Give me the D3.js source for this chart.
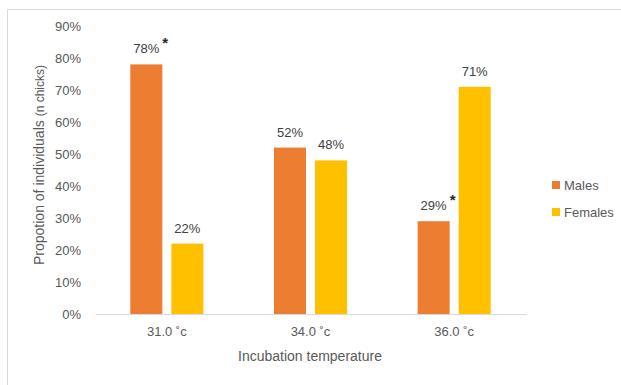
<!DOCTYPE html>
<html>
<head>
<meta charset="utf-8">
<script src="https://cdn.jsdelivr.net/npm/d3@7"></script>
<style>
  body { margin: 0; background: #fff; }
  svg { display: block; font-family: "Liberation Sans", Arial, sans-serif; }
</style>
</head>
<body>
<svg id="chart"></svg>
<script>
const categories = ["31.0 ˚c", "34.0 ˚c", "36.0 ˚c"]
const series = ["Males", "Females"]
const males = [0.78, 0.52, 0.29]
const females = [0.22, 0.48, 0.71]
const yTicks = [0, 0.1, 0.2, 0.3, 0.4, 0.5, 0.6, 0.7, 0.8, 0.9]
// bars marked with an asterisk (significant)
const starred = [{cat: "31.0 ˚c", s: "Males"}, {cat: "36.0 ˚c", s: "Males"}]

const colors = {Males: "#ed7d31", Females: "#ffc000"}
const width = 621, height = 385

const svg = d3.select("#chart").attr("width", width).attr("height", height)

svg.append("rect").attr("width", width).attr("height", height).attr("fill", "#fff")

// frame (only top and left edges are visible)
svg.append("path")
  .attr("d", `M7.5,${height} V9.5 H${width}`)
  .attr("fill", "none").attr("stroke", "#d9d9d9").attr("stroke-width", 1)

const x0 = d3.scaleBand().domain(categories).range([95, 526])
const x1 = d3.scaleBand().domain(series).range([0, x0.bandwidth()])
  .paddingInner(0.22).paddingOuter(0.86)
const y = d3.scaleLinear().domain([0, 0.9]).range([314, 26])

const rows = categories.map((c, i) => ({cat: c, values: [
  {cat: c, s: "Males", v: males[i]},
  {cat: c, s: "Females", v: females[i]}
]}))

// y axis labels
const yAxis = svg.append("g").attr("transform", "translate(81,0)")
  .call(d3.axisLeft(y).tickValues(yTicks).tickFormat(d3.format(".0%")).tickSize(0).tickPadding(0))
yAxis.select(".domain").remove()
yAxis.selectAll("text").attr("fill", "#595959").style("font-size", "13px")
  .style("font-family", "Liberation Sans, Arial, sans-serif")

// x axis
const xAxis = svg.append("g").attr("transform", "translate(0,314)")
  .call(d3.axisBottom(x0).tickSize(0).tickPadding(13))
xAxis.select(".domain").attr("stroke", "#d9d9d9").attr("stroke-width", 1.2)
xAxis.selectAll("text").attr("fill", "#595959").style("font-size", "13px")
  .style("font-family", "Liberation Sans, Arial, sans-serif")

// bars
const groups = svg.selectAll("g.cat").data(rows).join("g")
  .attr("class", "cat")
  .attr("transform", d => `translate(${x0(d.cat)},0)`)

groups.selectAll("rect").data(d => d.values).join("rect")
  .attr("x", d => x1(d.s))
  .attr("width", x1.bandwidth())
  .attr("y", d => y(d.v))
  .attr("height", d => y(0) - y(d.v))
  .attr("fill", d => colors[d.s])

const labels = groups.selectAll("text.lbl").data(d => d.values).join("text")
  .attr("class", "lbl")
  .attr("x", d => x1(d.s) + x1.bandwidth() / 2)
  .attr("y", d => y(d.v) - 11)
  .attr("text-anchor", "middle")
  .attr("fill", "#404040")
  .style("font-size", "13px")
  .text(d => d3.format(".0%")(d.v))

labels.each(function(d) {
  if (!starred.some(s => s.cat === d.cat && s.s === d.s)) return
  const w = this.getComputedTextLength()
  d3.select(this.parentNode).append("text")
    .attr("x", x1(d.s) + x1.bandwidth() / 2 + w / 2 + 3)
    .attr("y", y(d.v) - 16)
    .attr("fill", "#262626")
    .style("font-size", "15px")
    .style("font-weight", "bold")
    .text("*")
})

// axis titles
svg.append("text")
  .attr("x", 310).attr("y", 361)
  .attr("text-anchor", "middle")
  .attr("fill", "#595959")
  .style("font-size", "14px")
  .text("Incubation temperature")

const yt = svg.append("text")
  .attr("transform", "translate(44,165) rotate(-90)")
  .attr("text-anchor", "middle")
  .attr("fill", "#595959")
  .style("font-size", "14px")
yt.append("tspan").text("Propotion of individuals ")
yt.append("tspan").style("font-size", "12px").text("(n chicks)")

// legend
const legend = svg.selectAll("g.leg").data(series).join("g")
  .attr("class", "leg")
  .attr("transform", (d, i) => `translate(552,${181 + i * 27})`)
legend.append("rect").attr("width", 8).attr("height", 8).attr("fill", d => colors[d])
legend.append("text").attr("x", 12).attr("y", 9)
  .attr("fill", "#595959").style("font-size", "13px").text(d => d)
</script>
</body>
</html>
